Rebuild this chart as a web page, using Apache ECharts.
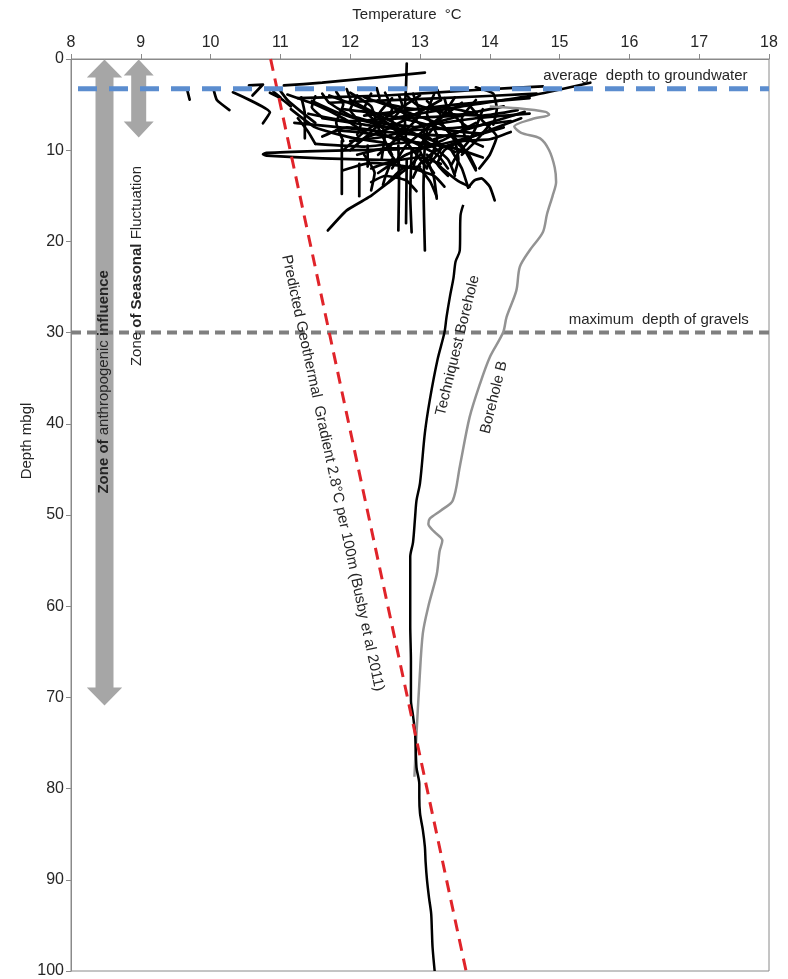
<!DOCTYPE html>
<html>
<head>
<meta charset="utf-8">
<script src="https://cdn.jsdelivr.net/npm/echarts@6/dist/echarts.min.js"></script>
<style>
  html, body { margin: 0; background: #fff; }
  #chart { width: 788px; height: 979px; }
</style>
</head>
<body>
<div id="chart"></div>
<script>
const FONT = '"Liberation Sans", Arial, sans-serif';
const TXT = '#262626';

// [temperature degC, depth mbgl]
const techniquest = [
  [13.62, 16.0], [13.58, 17.2], [13.57, 21.0], [13.51, 22.2], [13.48, 24], [13.43, 26],
  [13.38, 28.3], [13.35, 30], [13.25, 33], [13.14, 37.4], [13.07, 41], [13.0, 46.5],
  [12.95, 48.4], [12.93, 50.2], [12.9, 53], [12.86, 54.6], [12.86, 58], [12.86, 62],
  [12.87, 66], [12.87, 70.3], [12.9, 72], [12.93, 74], [12.95, 77.7], [12.99, 79.5],
  [12.99, 81], [13.0, 82.7], [13.04, 84.5], [13.07, 86.4], [13.08, 88], [13.1, 90],
  [13.13, 92], [13.16, 93.7], [13.17, 95.5], [13.18, 97.4], [13.21, 100]
];

const boreholeB = [
  [14.0, 5.2], [14.4, 5.4], [14.8, 5.8], [14.85, 6.1], [14.6, 6.6], [14.35, 7.4],
  [14.45, 8.1], [14.72, 8.7], [14.85, 10], [14.93, 11.9], [14.95, 13.5], [14.9, 15],
  [14.82, 17], [14.76, 19], [14.57, 21], [14.43, 22.8], [14.38, 25.4], [14.24, 28.3],
  [14.19, 30], [14.0, 32.7], [13.86, 35.6], [13.71, 39.3], [13.57, 44.7], [13.47, 48.4],
  [13.3, 49.5], [13.14, 50.4], [13.12, 51], [13.2, 51.8], [13.32, 52.8], [13.28, 54],
  [13.24, 56.5], [13.12, 60], [13.04, 63], [12.99, 68.5], [12.95, 74], [12.92, 78.7]
];

const geoGradient = [[10.86, 0], [13.66, 100]];
const groundwaterLine = [[8.1, 3.25], [18, 3.25]];
const gravelLine = [[8, 30], [18, 30]];

// shallow monitoring borehole profiles
const shallowProfiles = [
  [[9.66, 3.25], [9.70, 4.45]],
  [[10.04, 3.25], [10.09, 4.5], [10.27, 5.6]],
  [[10.32, 3.65], [10.85, 5.84], [10.75, 7.05]],
  [[10.55, 2.9], [10.75, 2.8], [10.6, 4.0]],
  [[10.9, 3.6], [11.0, 4.2]],
  [[11.05, 2.9], [11.6, 2.6], [13.07, 1.5]],
  [[12.81, 0.5], [12.8, 3], [12.78, 6], [12.8, 9]],
  [[11.25, 4.3], [12.5, 4.0], [13.8, 3.4], [14.76, 3.0]],
  [[12.6, 6.5], [13.6, 5.2], [14.6, 4.0], [15.44, 2.6]],
  [[11.7, 4.8], [13.3, 4.3], [14.67, 3.8]],
  [[12.2, 6.2], [13.5, 5.0], [14.57, 4.3]],
  [[12.9, 7.5], [13.8, 6.5], [14.57, 6.0]],
  [[13.2, 8.8], [13.9, 7.2], [14.5, 5.8]],
  [[13.4, 9.5], [14.0, 7.8], [14.45, 6.5]],
  [[13.8, 3.1], [14.05, 3.8], [14.1, 5.5], [14.05, 7.2]],
  [[12.7, 9.9], [11.5, 10.1], [10.8, 10.3], [10.75, 10.45], [10.8, 10.6], [11.6, 10.9], [12.7, 11.1]],
  [[11.88, 9], [11.88, 14.8]],
  [[12.13, 11.5], [12.13, 15.05]],
  [[12.69, 9.5], [12.7, 13], [12.69, 18.8]],
  [[12.88, 10], [12.86, 15], [12.88, 19]],
  [[12.81, 11], [12.8, 18]],
  [[13.07, 9], [13.05, 14], [13.07, 21]],
  [[11.68, 18.8], [11.95, 16.6], [12.28, 15.1], [12.47, 14.0], [12.66, 12.9], [12.85, 11.8], [13.0, 10.5]],
  [[12.25, 9.5], [12.25, 11.8]],
  [[13.69, 14.1], [13.78, 13.3], [13.88, 13.1], [14.0, 14.0], [14.07, 15.5]],
  [[13.45, 10], [13.6, 12], [13.69, 14.1]],
  [[13.1, 11], [13.2, 13], [13.24, 15.3]],
  [[13.3, 7], [13.5, 9], [13.55, 11], [13.5, 12.5]],
  [[11.0, 3.5], [11.1, 4.5], [11.3, 5.8], [11.5, 7]],
  [[11.1, 3.9], [11.5, 5], [11.9, 6.5], [12.2, 8]],
  [[11.3, 4.2], [11.35, 6], [11.35, 8.7]],
  [[11.15, 5.5], [11.5, 7.5], [12.0, 8.6], [12.5, 9.2]],
  [[11.6, 3.8], [11.7, 4.8], [12.0, 6.2], [12.4, 7.0], [12.9, 7.4]],
  [[11.7, 4.0], [12.2, 5.5], [12.6, 7.5], [12.9, 10], [13.1, 12]],
  [[11.8, 3.6], [11.9, 5], [11.8, 7], [11.9, 9]],
  [[12.0, 3.7], [12.3, 5.2], [12.4, 7.5], [12.6, 10.5]],
  [[12.3, 3.8], [12.2, 5.5], [12.5, 8], [12.45, 11]],
  [[12.5, 3.7], [12.6, 5.5], [12.3, 8.0], [12.0, 10.0]],
  [[12.9, 3.8], [13.0, 6], [12.7, 8.5], [12.4, 10.5]],
  [[13.2, 3.9], [13.1, 6], [13.25, 8.5], [13.15, 11]],
  [[13.5, 4.2], [13.3, 6.5], [13.0, 9.5], [12.9, 12]],
  [[11.4, 6], [12.0, 6.8], [12.7, 6.5], [13.5, 6.2], [14.2, 5.2]],
  [[11.2, 7.0], [12.0, 7.6], [12.8, 8.2], [13.7, 8.5]],
  [[12.0, 9], [12.5, 8.5], [13.2, 7.0], [13.8, 5.8]],
  [[11.5, 9.3], [12.2, 9.6], [12.9, 9.1], [13.5, 9.8], [13.9, 10.8]],
  [[12.3, 12], [12.6, 11.2], [13.0, 10.8], [13.3, 11.5]],
  [[12.9, 13.0], [13.0, 11.5], [13.2, 10.2], [13.4, 9.5], [13.6, 10.2]],
  [[12.55, 13.5], [12.75, 12], [13.0, 11.8]],
  [[10.85, 3.7], [11.0, 4.3], [11.15, 5.2]],
  [[13.8, 4.5], [13.6, 6.5], [13.65, 8.6], [13.9, 9.6]],
  [[14.0, 7.2], [13.8, 9], [13.6, 10.5]],
  [[12.75, 8.5], [13.0, 9.5], [13.25, 10.5], [13.4, 12]],
  [[13.9, 5.5], [13.8, 7.5], [13.7, 9.0], [13.55, 10.3], [13.45, 11.6]],
  [[11.5, 4.1], [11.45, 5.3], [11.6, 6.4]],
  [[12.1, 4.0], [12.0, 5.6], [12.15, 7.2], [12.1, 8.3]],
  [[12.7, 4.0], [12.75, 5.2], [12.6, 6.8], [12.75, 8.0]],
  [[13.35, 4.3], [13.4, 5.5], [13.6, 7.0], [13.7, 7.6]],
  [[12.0, 4.5], [12.5, 6.5], [13.0, 8.5], [13.4, 11], [13.5, 12.8]],
  [[12.2, 4.2], [12.8, 5.8], [13.3, 7.2], [13.6, 9.5], [13.8, 12.2]],
  [[13.0, 4.0], [12.6, 6.0], [12.2, 8.0], [11.9, 10.0]],
  [[13.3, 4.5], [12.9, 6.2], [12.5, 7.8], [12.1, 9.0]],
  [[13.6, 4.8], [13.2, 7.0], [12.8, 9.5], [12.6, 12.0]],
  [[12.4, 4.5], [12.9, 6.5], [13.1, 8.0], [13.0, 10.0], [13.2, 12.5]],
  [[11.9, 5.5], [12.4, 6.0], [12.9, 6.8], [13.4, 7.8], [13.9, 8.2]],
  [[11.6, 6.5], [12.2, 7.2], [12.9, 7.8], [13.6, 7.5], [14.3, 6.8]],
  [[12.1, 10.5], [12.5, 9.8], [13.0, 9.8], [13.6, 8.8], [14.2, 7.5]],
  [[12.4, 12.5], [12.8, 10.5], [13.3, 9.0], [13.8, 7.0]],
  [[12.6, 4.3], [12.4, 6.2], [12.7, 8.0], [12.55, 10.0], [12.75, 12.0]],
  [[13.1, 4.6], [13.3, 6.2], [13.05, 8.0], [13.3, 9.8], [13.1, 11.8]],
  [[13.7, 5.0], [13.9, 6.8], [14.1, 8.5], [14.0, 10.5], [13.85, 12]],
  [[12.8, 3.9], [12.95, 5.0], [13.4, 6.0], [13.9, 6.2], [14.4, 5.6]],
  [[11.45, 4.6], [11.8, 5.8], [12.2, 6.8], [12.7, 7.8], [13.2, 9.0], [13.5, 10.2]],
  [[11.25, 6.5], [11.4, 8], [11.5, 9.3]],
  [[11.6, 8.5], [11.95, 7.5], [12.3, 7.8], [12.7, 9.0]],
  [[13.4, 12.8], [13.25, 11.5], [13.35, 10.0], [13.6, 9.0], [14.0, 8.8], [14.3, 8.0]],
  [[11.95, 3.3], [12.0, 4.4]],
  [[12.38, 3.2], [12.42, 4.3]],
  [[13.25, 3.4], [13.3, 4.5]],
  [[12.55, 5.0], [12.95, 5.5], [13.35, 5.3], [13.75, 5.9]],
  [[11.8, 7.8], [12.3, 8.2], [12.8, 8.9], [13.2, 9.6]],
  [[12.2, 10.5], [12.35, 12.5], [12.3, 14.4]],
  [[12.6, 11.0], [12.5, 13.0], [12.47, 13.8]],
  [[13.0, 12.0], [13.15, 13.5], [13.24, 15.1]],
  [[13.1, 10.5], [13.35, 12.2], [13.55, 13.4], [13.71, 14.0]],
  [[12.3, 13.5], [12.5, 12.8], [12.8, 13.3], [12.95, 14.5]],
  [[13.5, 9.0], [13.7, 10.5], [13.8, 12.0]],
  [[11.9, 12.2], [12.3, 11.4], [12.8, 11.8], [13.2, 12.8], [13.35, 14.0]]
];

const chart = echarts.init(document.getElementById('chart'));

const profileSeries = shallowProfiles.map(p => ({
  type: 'line', data: p, symbol: 'none', smooth: 0.15, silent: true,
  lineStyle: { color: '#000', width: 2.7, cap: 'round', join: 'round' }, z: 3
}));

chart.setOption({
  animation: false,
  grid: { left: 71, right: 19, top: 59, bottom: 8, show: true, borderColor: '#8a8a8a', borderWidth: 1 },
  xAxis: {
    type: 'value', position: 'top', min: 8, max: 18, interval: 1,
    axisLine: { onZero: false, lineStyle: { color: '#8a8a8a' } },
    axisTick: { show: true, length: 5, lineStyle: { color: '#8a8a8a' } },
    axisLabel: { color: TXT, fontSize: 16, fontFamily: FONT, margin: 8 },
    splitLine: { show: false }
  },
  yAxis: {
    type: 'value', inverse: true, min: 0, max: 100, interval: 10,
    axisLine: { show: true, onZero: false, lineStyle: { color: '#8a8a8a' } },
    axisTick: { show: true, length: 5, lineStyle: { color: '#8a8a8a' } },
    axisLabel: { color: TXT, fontSize: 16, fontFamily: FONT, margin: 7 },
    splitLine: { show: false }
  },
  series: [
    { type: 'line', data: gravelLine, symbol: 'none', silent: true, z: 2,
      lineStyle: { color: '#7f7f7f', width: 4, type: [10, 6] } },
    ...profileSeries,
    { type: 'line', data: boreholeB, symbol: 'none', smooth: 0.3, silent: true, z: 4,
      lineStyle: { color: '#939393', width: 2.5 } },
    { type: 'line', data: techniquest, symbol: 'none', smooth: 0.3, silent: true, z: 4,
      lineStyle: { color: '#000', width: 2.5 } },
    { type: 'line', data: geoGradient, symbol: 'none', silent: true, z: 5,
      lineStyle: { color: '#e0242a', width: 3, type: [12, 8] } },
    { type: 'line', data: groundwaterLine, symbol: 'none', silent: true, z: 6,
      lineStyle: { color: '#5b8dcf', width: 5, type: [19, 12] } }
  ]
});

const px = (t, d) => chart.convertToPixel({ gridIndex: 0 }, [t, d]);

function dblArrow(t, d0, d1, shaftHalf, headHalf, headLen) {
  const top = px(t, d0), bot = px(t, d1), x = top[0];
  const y0 = top[1], y1 = bot[1];
  return [
    [x, y0], [x + headHalf, y0 + headLen], [x + shaftHalf, y0 + headLen],
    [x + shaftHalf, y1 - headLen], [x + headHalf, y1 - headLen], [x, y1],
    [x - headHalf, y1 - headLen], [x - shaftHalf, y1 - headLen],
    [x - shaftHalf, y0 + headLen], [x - headHalf, y0 + headLen]
  ];
}

function label(t, d, text, rotation, rich) {
  const p = px(t, d);
  return {
    type: 'text', x: p[0], y: p[1], rotation: rotation || 0, z: 100,
    style: {
      text: text, fill: TXT, fontSize: 15, fontFamily: FONT,
      align: 'center', verticalAlign: 'middle', rich: rich
    }
  };
}

const boldRich = {
  b: { fontSize: 15, fontFamily: FONT, fontWeight: 'bold', fill: TXT },
  n: { fontSize: 15, fontFamily: FONT, fill: TXT }
};

chart.setOption({
  graphic: [
    { type: 'polygon', z: 1, shape: { points: dblArrow(8.48, 0.05, 70.9, 9, 17.7, 18) }, style: { fill: '#a6a6a6' } },
    { type: 'polygon', z: 1, shape: { points: dblArrow(8.97, 0.05, 8.6, 7.5, 15, 16) }, style: { fill: '#a6a6a6' } },
    label(8.47, 35.4, '{b|Zone of} {n|anthropogenic} {b|influence}', Math.PI / 2, boldRich),
    label(8.945, 22.7, '{n|Zone} {b|of Seasonal} {n|Fluctuation}', Math.PI / 2, boldRich),
    label(11.75, 45.4, 'Predicted Geothermal  Gradient 2.8°C per 100m (Busby et al 2011)', -1.36),
    label(13.54, 31.4, 'Techniquest Borehole', 1.33),
    label(14.06, 37.1, 'Borehole B', 1.33),
    label(16.23, 1.8, 'average  depth to groundwater'),
    label(16.42, 28.65, 'maximum  depth of gravels'),
    { type: 'text', x: 407, y: 15, z: 100,
      style: { text: 'Temperature  °C', fill: TXT, fontSize: 15, fontFamily: FONT, align: 'center', verticalAlign: 'middle' } },
    { type: 'text', x: 27, y: 441, rotation: Math.PI / 2, z: 100,
      style: { text: 'Depth mbgl', fill: TXT, fontSize: 15, fontFamily: FONT, align: 'center', verticalAlign: 'middle' } }
  ]
});
</script>
</body>
</html>
